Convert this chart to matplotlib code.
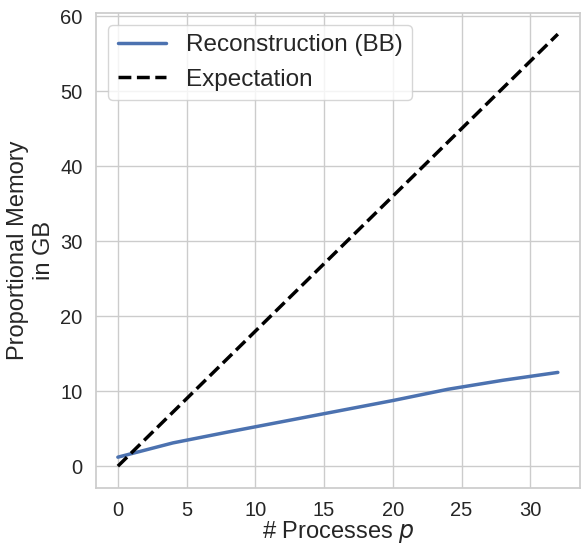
import matplotlib
matplotlib.use("Agg")
import matplotlib.pyplot as plt
import seaborn as sns

processes = [0, 4, 8, 12, 16, 20, 24, 28, 32]
reconstruction_gb = [1.2, 3.1, 4.55, 5.95, 7.35, 8.75, 10.25, 11.45, 12.5]
expect_p = [0, 32]
expect_gb = [0, 57.6]

sns.set_theme(style="whitegrid")
plt.rcParams['font.family'] = ['Liberation Sans', 'DejaVu Sans']

fig = plt.figure(figsize=(5.81, 5.45), dpi=100)
ax = fig.add_axes([0.165, 0.105, 0.833, 0.872])
ax.plot(processes, reconstruction_gb, color="#4c72b0", lw=2.5, label="Reconstruction (BB)")
ax.plot(expect_p, expect_gb, color="black", lw=2.5, ls="--", label="Expectation")
ax.set_xticks([0, 5, 10, 15, 20, 25, 30])
ax.set_xlabel("# Processes $p$", fontsize=17, labelpad=-1)
ax.set_ylabel("Proportional Memory\nin GB", fontsize=17, labelpad=4)
ax.tick_params(labelsize=14.5)
ax.legend(fontsize=17.5, loc="upper left", frameon=True)
fig.savefig("out.png", dpi=100)
